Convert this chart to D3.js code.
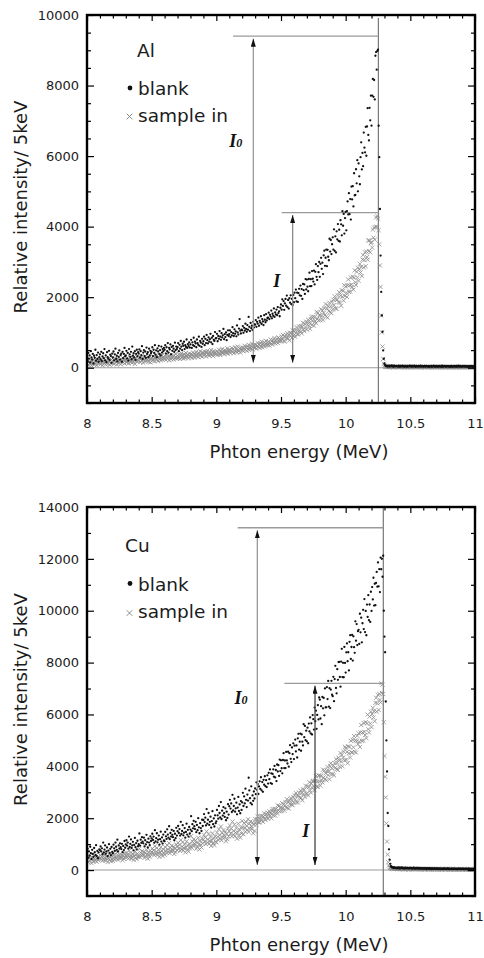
<!DOCTYPE html>
<html>
<head>
<meta charset="utf-8">
<title>Photon spectra, Al and Cu</title>
<script src="https://cdn.jsdelivr.net/npm/d3@7"></script>
<style>
  body { margin: 0; background: #fff; }
  svg text { font-family: "DejaVu Sans", sans-serif; fill: #1b1b1b; }
  .tick line { stroke: #000; stroke-width: 1.2; }
</style>
</head>
<body>
<svg id="chart" width="484" height="958"></svg>
<script>
// spectra are binned in 5 keV steps starting at 8 MeV
var binStart = 8.0;
var binWidth = 0.005;

var xTickValues = [8, 8.5, 9, 9.5, 10, 10.5, 11];
var alTickValues = [0, 2000, 4000, 6000, 8000, 10000];
var cuTickValues = [0, 2000, 4000, 6000, 8000, 10000, 12000, 14000];
var seriesNames = ["blank", "sample in"];

var alBlank = [
  310, 180, 420, 260, 350, 150, 470, 290, 230, 390, 120, 340, 280, 510, 200, 360, 250, 430, 170, 300,
  380, 240, 450, 190, 320, 410, 270, 530, 210, 350, 160, 440, 300, 260, 480, 220, 370, 330, 140, 400,
  290, 460, 210, 380, 540, 250, 340, 180, 420, 310, 490, 230, 360, 400, 170, 450, 270, 390, 560, 320,
  350, 480, 260, 420, 200, 530, 380, 310, 450, 240, 600, 340, 410, 290, 470, 220, 390, 510, 330, 440,
  400, 520, 290, 470, 360, 610, 250, 430, 500, 330, 460, 280, 570, 390, 440, 300, 540, 350, 480, 410,
  450, 580, 330, 510, 420, 640, 370, 490, 300, 550, 460, 620, 390, 500, 350, 600, 430, 530, 470, 560,
  510, 640, 400, 580, 470, 700, 430, 560, 520, 660, 380, 590, 480, 620, 540, 450, 710, 500, 600, 530,
  580, 700, 470, 650, 540, 760, 600, 500, 680, 620, 740, 530, 640, 590, 800, 560, 670, 610, 720, 570,
  660, 790, 560, 720, 640, 850, 610, 740, 690, 580, 800, 700, 650, 880, 620, 760, 710, 590, 820, 680,
  750, 880, 640, 820, 700, 930, 780, 690, 860, 740, 810, 960, 720, 850, 670, 900, 790, 760, 1010, 830,
  840, 960, 750, 900, 820, 1040, 880, 790, 980, 860, 920, 1100, 810, 950, 870, 1000, 780, 930, 1060, 900,
  950, 1060, 870, 1010, 920, 1150, 980, 900, 1090, 960, 1030, 890, 1200, 1000, 940, 1110, 1380, 1050, 970, 1080,
  1060, 1180, 990, 1130, 1050, 1250, 1100, 1020, 1210, 1080, 1440, 1160, 1040, 1270, 1120, 1190, 1070, 1300, 1140, 1230,
  1220, 1350, 1160, 1300, 1250, 1420, 1190, 1330, 1280, 1460, 1240, 1380, 1310, 1210, 1490, 1360, 1290, 1520, 1340, 1410,
  1420, 1560, 1380, 1500, 1450, 1620, 1400, 1530, 1470, 1680, 1440, 1570, 1510, 1650, 1490, 1720, 1550, 1600, 1460, 1700,
  1792, 1647, 1940, 1752, 1890, 1642, 1824, 1951, 1757, 2046, 1717, 1920, 1676, 1970, 1845, 2052, 1803, 1951, 1776, 2064,
  1856, 2127, 1972, 2216, 1880, 2127, 1866, 2116, 2237, 2053, 2328, 2038, 2230, 1951, 2376, 2199, 2362, 2091, 2512, 2219,
  2498, 2297, 2168, 2516, 2695, 2311, 2511, 2315, 2740, 2522, 2442, 2755, 2361, 2720, 2936, 2576, 2490, 2883, 2709, 2999,
  2576, 2946, 3117, 2805, 2977, 2655, 3187, 3319, 2889, 3118, 3350, 2880, 3343, 3146, 3047, 3656, 3293, 3621, 3223, 3500,
  3698, 3350, 3925, 3313, 3726, 3270, 3867, 3640, 4072, 3597, 3912, 3579, 4182, 4065, 3753, 4439, 4025, 4361, 3803, 4244,
  4420, 3896, 4440, 4714, 4346, 4950, 4352, 4782, 4200, 5135, 4772, 5146, 4572, 5513, 4886, 4903, 5627, 5228, 5884, 5002,
  5793, 5427, 5201, 5969, 6390, 5623, 6089, 5714, 6667, 6239, 6107, 6830, 6009, 6839, 7359, 6599, 6445, 7367, 7015, 7713,
  6862, 7715, 8187, 7681, 8157, 7607, 8845, 8950, 8450, 8980, 9020, 6860, 5970, 4500, 3180, 2150, 1480, 1020, 490, 255,
  120, 70, 55, 40, 62, 35, 48, 58, 30, 52, 44, 66, 38, 50, 28, 60, 45, 36, 54, 42,
  48, 30, 56, 40, 25, 52, 44, 34, 60, 38, 46, 28, 55, 42, 33, 50, 26, 47, 39, 58,
  36, 49, 27, 54, 41, 32, 58, 45, 24, 50, 37, 44, 29, 53, 40, 35, 57, 31, 46, 38,
  43, 26, 51, 39, 30, 55, 42, 34, 48, 22, 45, 37, 52, 28, 41, 33, 56, 40, 25, 47,
  31, 49, 38, 27, 53, 44, 29, 40, 35, 58, 24, 46, 32, 51, 39, 26, 43, 36, 50, 30,
  45, 33, 28, 52, 39, 24, 47, 36, 55, 30, 42, 27, 49, 38, 34, 57, 29, 44, 35, 41,
  26, 50, 37, 43, 31, 54, 28, 46, 39, 23, 48, 35, 41, 30, 53, 36, 27, 45, 33, 40,
  38
];

var alSample = [
  120, 210, 80, 170, 240, 100, 150, 60, 190, 130, 230, 90, 160, 110, 200, 70, 180, 140, 250, 120,
  190, 100, 220, 140, 70, 180, 260, 120, 160, 90, 210, 150, 240, 110, 170, 80, 200, 130, 230, 160,
  140, 230, 110, 200, 270, 160, 90, 190, 250, 130, 220, 170, 100, 240, 180, 290, 150, 210, 120, 200,
  230, 150, 280, 180, 120, 250, 210, 300, 160, 220, 140, 270, 190, 240, 110, 260, 200, 310, 170, 230,
  200, 280, 160, 250, 310, 190, 240, 140, 270, 220, 330, 180, 260, 210, 300, 170, 290, 230, 150, 260,
  280, 200, 320, 240, 180, 300, 260, 350, 220, 290, 190, 310, 250, 340, 210, 270, 360, 230, 300, 260,
  250, 330, 220, 300, 380, 260, 310, 210, 350, 280, 240, 370, 290, 320, 230, 340, 270, 390, 300, 260,
  340, 270, 380, 300, 250, 360, 410, 290, 330, 260, 390, 320, 280, 420, 350, 300, 370, 270, 400, 330,
  310, 390, 280, 360, 430, 330, 290, 400, 350, 450, 320, 380, 300, 420, 360, 470, 340, 390, 310, 440,
  410, 350, 460, 380, 320, 430, 480, 370, 400, 340, 450, 390, 500, 360, 420, 330, 470, 400, 440, 380,
  390, 460, 370, 440, 510, 400, 360, 480, 430, 530, 410, 450, 380, 500, 440, 470, 420, 550, 400, 490,
  440, 510, 420, 490, 560, 450, 530, 410, 480, 580, 460, 520, 440, 600, 500, 470, 540, 430, 570, 510,
  490, 570, 470, 550, 620, 510, 580, 480, 600, 530, 650, 500, 560, 620, 540, 680, 520, 590, 640, 560,
  570, 650, 540, 620, 700, 590, 660, 560, 690, 610, 740, 580, 670, 630, 720, 600, 680, 760, 640, 710,
  650, 740, 630, 710, 800, 680, 760, 660, 790, 720, 840, 690, 770, 730, 820, 700, 860, 750, 800, 780,
  752, 889, 808, 931, 757, 882, 746, 873, 933, 837, 977, 826, 923, 777, 994, 902, 984, 842, 1057, 904,
  1046, 943, 876, 1056, 1149, 949, 1053, 950, 1172, 1057, 1015, 1179, 972, 1161, 1275, 1083, 1037, 1245, 1152, 1307,
  1080, 1274, 1360, 1188, 1275, 1099, 1377, 1443, 1209, 1326, 1444, 1191, 1431, 1322, 1265, 1582, 1386, 1554, 1340, 1481,
  1494, 1348, 1658, 1465, 1616, 1357, 1555, 1695, 1492, 1807, 1456, 1680, 1418, 1744, 1610, 1843, 1572, 1739, 1548, 1874,
  1656, 1929, 1774, 2022, 1682, 1933, 1668, 1924, 2048, 1861, 2143, 1846, 2044, 1757, 2194, 2013, 2182, 1902, 2338, 2034,
  2305, 2123, 2006, 2332, 2502, 2148, 2337, 2158, 2557, 2356, 2285, 2580, 2215, 2554, 2760, 2424, 2346, 2719, 2558, 2835,
  2465, 2787, 2946, 2700, 2859, 2602, 3068, 3196, 2843, 3054, 3269, 2878, 3293, 3136, 3063, 3610, 3307, 3609, 3272, 3531,
  3563, 3406, 3919, 3688, 3971, 3632, 3991, 4262, 3998, 4300, 4230, 3900, 3500, 2900, 2290, 1480, 1000, 600, 250, 110,
  60, 35, 28, 20, 32, 18, 26, 30, 14, 24, 22, 34, 17, 27, 12, 31, 21, 16, 29, 23,
  25, 13, 30, 19, 11, 28, 22, 16, 33, 18, 24, 12, 29, 20, 15, 27, 10, 23, 17, 31,
  16, 26, 12, 29, 21, 14, 32, 23, 9, 27, 18, 22, 13, 28, 19, 15, 30, 11, 24, 20,
  22, 10, 27, 18, 13, 30, 21, 15, 25, 8, 23, 17, 28, 12, 20, 14, 31, 19, 9, 24,
  14, 26, 19, 11, 29, 22, 12, 20, 16, 32, 9, 24, 15, 27, 18, 10, 21, 17, 26, 13,
  23, 15, 11, 28, 19, 8, 25, 16, 30, 13, 21, 10, 26, 18, 14, 31, 12, 22, 16, 20,
  10, 27, 17, 22, 13, 29, 11, 24, 19, 7, 25, 15, 20, 12, 28, 16, 9, 23, 14, 19,
  18
];

var cuBlank = [
  600, 820, 480, 720, 560, 900, 650, 430, 780, 620, 510, 850, 690, 580, 960, 540, 740, 460, 680, 800,
  770, 910, 720, 840, 610, 1060, 680, 790, 950, 630, 720, 870, 540, 750, 1000, 660, 820, 580, 890, 700,
  650, 980, 840, 740, 1060, 900, 780, 1170, 720, 950, 830, 1030, 880, 810, 1010, 690, 930, 770, 1120, 860,
  990, 1150, 940, 1060, 830, 1290, 890, 1010, 1180, 850, 950, 1090, 760, 970, 1240, 880, 1040, 800, 1130, 920,
  1000, 1410, 940, 1170, 1050, 1270, 1100, 1030, 1250, 910, 1150, 990, 1360, 1080, 870, 1210, 1060, 960, 1300, 1120,
  1220, 1400, 1160, 1290, 1050, 1540, 1110, 1230, 1420, 1070, 1170, 1330, 980, 1190, 1480, 1100, 1260, 1020, 1370, 1140,
  1110, 1470, 1300, 1200, 1570, 1370, 1250, 1690, 1190, 1430, 1290, 1550, 1360, 1270, 1510, 1150, 1400, 1230, 1630, 1330,
  1500, 1700, 1430, 1580, 1330, 1860, 1390, 1510, 1730, 1340, 1440, 1620, 1250, 1470, 1790, 1370, 1550, 1290, 1660, 1410,
  1560, 2080, 1500, 1770, 1610, 1900, 1690, 1580, 1860, 1460, 1740, 1540, 2000, 1650, 1420, 1810, 1620, 1510, 1940, 1700,
  1930, 2160, 1850, 2020, 1720, 2350, 1790, 1940, 2200, 1740, 1860, 2060, 1640, 1890, 2270, 1770, 1990, 1680, 2110, 1810,
  1880, 2320, 2110, 1980, 2470, 2200, 2030, 2620, 1970, 2290, 2100, 2430, 2190, 2050, 2380, 1920, 2250, 2010, 2540, 2140,
  2460, 2710, 2370, 2570, 2240, 2900, 2300, 2470, 2750, 2250, 2380, 2600, 2150, 2410, 2820, 2280, 2530, 2190, 2660, 2320,
  2610, 2980, 2470, 2840, 2570, 3140, 2710, 2430, 2910, 2680, 3560, 3070, 2770, 2590, 3230, 2530, 2880, 2670, 3030, 2760,
  3145, 2926, 3382, 3096, 3315, 2935, 3222, 3423, 3127, 3579, 3073, 3392, 3018, 3480, 3289, 3617, 3233, 3468, 3199, 3654,
  3334, 3750, 3505, 3879, 3354, 3731, 3325, 3706, 3886, 3601, 4017, 3571, 3859, 3432, 4071, 3801, 4043, 3632, 4260, 3817,
  4231, 3927, 3731, 4244, 4506, 3932, 4224, 3933, 4554, 4229, 4110, 4563, 3986, 4506, 4816, 4289, 4163, 4728, 4474, 4889,
  4278, 4797, 5030, 4573, 4806, 4340, 5079, 5252, 4641, 4949, 5262, 4601, 5231, 4949, 4805, 5627, 5124, 5559, 5010, 5376,
  4966, 5490, 4890, 5648, 5345, 5885, 5269, 5658, 5227, 5977, 5820, 5419, 6266, 5739, 6147, 5446, 5982, 6357, 5809, 6654,
  6570, 5844, 6320, 5624, 6676, 6236, 6638, 5966, 7003, 6277, 6275, 7057, 6594, 7293, 6306, 7012, 6247, 6961, 7297, 6760,
  6706, 7450, 6513, 7366, 7877, 7020, 6817, 7747, 7336, 8020, 8026, 7445, 7070, 8039, 8531, 7442, 7990, 7435, 8605, 7989,
  7614, 8395, 8741, 8052, 8400, 7699, 8803, 9058, 8143, 8601, 9064, 8079, 9013, 8593, 8378, 9593, 8847, 9487, 8676, 9213,
  9264, 8720, 9884, 9169, 9732, 8780, 9517, 10034, 9293, 10450, 9176, 9994, 9054, 10236, 9761, 10600, 9637, 10241, 9569, 10732,
  9991, 10914, 10437, 11271, 10197, 11041, 10215, 11071, 11498, 10927, 11862, 10942, 11604, 10721, 12050, 11600, 12000, 11311, 12120, 10000,
  9000, 8400, 6500, 5000, 3800, 2200, 1700, 800, 400, 240, 150, 120, 95, 110, 80, 100, 90, 75, 85, 70,
  95, 70, 105, 80, 60, 90, 75, 100, 65, 85, 72, 55, 92, 68, 80, 62, 88, 74, 58, 83,
  70, 85, 60, 78, 52, 90, 66, 74, 48, 82, 63, 71, 55, 86, 61, 68, 50, 77, 58, 65,
  62, 48, 75, 55, 66, 42, 70, 57, 63, 45, 72, 52, 60, 40, 68, 54, 47, 64, 50, 58,
  46, 61, 52, 38, 65, 49, 56, 41, 59, 47, 35, 62, 50, 44, 57, 39, 53, 45, 60, 42,
  55, 40, 48, 36, 58, 44, 51, 33, 46, 54, 38, 49, 42, 30, 56, 43, 37, 50, 41, 47,
  35, 52, 44, 31, 48, 39, 55, 36, 42, 28, 50, 40, 46, 33, 45, 38, 29, 47, 37, 43,
  40
];

var cuSample = [
  380, 510, 300, 460, 350, 560, 420, 270, 490, 400, 330, 540, 440, 360, 590, 320, 470, 390, 520, 430,
  470, 560, 420, 510, 360, 640, 400, 480, 580, 370, 440, 530, 310, 450, 610, 390, 500, 340, 550, 430,
  350, 570, 480, 410, 620, 520, 440, 690, 400, 550, 460, 600, 510, 470, 590, 380, 540, 430, 650, 490,
  560, 660, 500, 600, 440, 750, 480, 570, 680, 450, 520, 620, 390, 540, 710, 470, 590, 420, 640, 510,
  540, 820, 490, 670, 560, 730, 620, 570, 710, 470, 650, 530, 780, 600, 440, 690, 580, 500, 750, 630,
  700, 830, 640, 760, 570, 920, 620, 710, 850, 580, 660, 780, 510, 680, 880, 610, 740, 540, 800, 650,
  590, 880, 750, 660, 960, 800, 700, 1040, 650, 860, 730, 940, 790, 740, 900, 620, 840, 690, 990, 770,
  900, 1050, 830, 970, 740, 1160, 800, 910, 1080, 760, 850, 990, 680, 870, 1110, 790, 950, 710, 1010, 840,
  920, 1310, 860, 1100, 950, 1190, 1020, 950, 1140, 820, 1070, 900, 1250, 990, 790, 1120, 970, 870, 1220, 1030,
  1170, 1360, 1100, 1260, 1000, 1490, 1060, 1180, 1390, 1010, 1120, 1280, 930, 1140, 1420, 1040, 1230, 960, 1300, 1100,
  1070, 1450, 1280, 1160, 1570, 1350, 1220, 1680, 1150, 1430, 1260, 1540, 1340, 1260, 1470, 1110, 1400, 1190, 1610, 1300,
  1500, 1720, 1420, 1600, 1300, 1870, 1370, 1510, 1750, 1310, 1440, 1620, 1210, 1460, 1790, 1340, 1560, 1250, 1640, 1410,
  1890, 1640, 1380, 1810, 1620, 1480, 1850, 1700, 1550, 1960, 1470, 1790, 1600, 1880, 1690, 1590, 1830, 1420, 1750, 1510,
  1960, 1838, 1760, 1964, 2068, 1839, 1955, 1839, 2085, 1956, 1909, 2088, 1860, 2064, 2186, 1979, 1929, 2151, 2051, 2213,
  1974, 2177, 2267, 2090, 2180, 1999, 2286, 2353, 2115, 2235, 2356, 2101, 2343, 2235, 2179, 2496, 2302, 2470, 2259, 2399,
  2413, 2272, 2576, 2391, 2538, 2291, 2484, 2620, 2427, 2731, 2398, 2613, 2368, 2678, 2554, 2775, 2523, 2683, 2507, 2813,
  2603, 2881, 2720, 2969, 2622, 2874, 2606, 2860, 2981, 2793, 3070, 2776, 2968, 2688, 3111, 2934, 3096, 2826, 3242, 2951,
  2950, 3228, 2877, 3195, 3385, 3065, 2989, 3334, 3181, 3434, 3436, 3221, 3082, 3440, 3621, 3219, 3421, 3216, 3646, 3419,
  3647, 3253, 3631, 3464, 3380, 3873, 3573, 3835, 3509, 3729, 3464, 3819, 3976, 3663, 3820, 3502, 4003, 4120, 3703, 3911,
  3699, 4029, 3651, 4128, 3938, 4277, 3889, 4134, 3863, 4333, 4235, 3984, 4513, 4184, 4439, 4002, 4336, 4569, 4229, 4753,
  4701, 4254, 4549, 4121, 4773, 4503, 4752, 4340, 4981, 4536, 4536, 5019, 4735, 5168, 4563, 4999, 4531, 4971, 5178, 4852,
  5270, 4949, 4745, 5304, 5593, 4982, 5303, 4995, 5671, 5328, 5206, 5701, 5085, 5652, 5994, 5432, 5302, 5919, 5651, 6106,
  5510, 6014, 6259, 5880, 6128, 5734, 6448, 6643, 6111, 6432, 6758, 6174, 6798, 6567, 6464, 7200, 6833, 7150, 6790, 5700,
  4400, 3600, 2800, 1800, 1100, 600, 300, 180, 120, 90, 75, 60, 55, 70, 45, 65, 50, 40, 58, 48,
  52, 38, 60, 44, 30, 55, 41, 48, 34, 57, 40, 28, 50, 36, 46, 32, 53, 39, 27, 45,
  37, 49, 29, 54, 42, 31, 47, 35, 58, 26, 43, 38, 51, 33, 44, 25, 48, 36, 30, 41,
  33, 46, 24, 40, 35, 50, 28, 43, 37, 22, 45, 31, 39, 27, 48, 34, 23, 42, 36, 29,
  41, 26, 38, 32, 21, 44, 30, 36, 25, 40, 33, 47, 28, 35, 20, 39, 31, 43, 24, 34,
  27, 39, 22, 36, 30, 45, 25, 33, 19, 38, 28, 42, 23, 31, 37, 20, 34, 26, 41, 29,
  32, 18, 35, 27, 40, 23, 30, 21, 37, 26, 33, 17, 29, 36, 24, 31, 19, 34, 25, 28,
  27
];

// guide marks in data units: cutoff energy, I0 and I levels,
// where each level line starts, energy of each arrow, label anchors
var alCutoff = 10.253;
var alLevels = [9400, 4400];
var alLevelFrom = [9.13, 9.505];
var alArrowAt = [9.286, 9.59];
var alLabelAt = [[9.10, 6250], [9.44, 2300]];

var cuCutoff = 10.291;
var cuLevels = [13200, 7200];
var cuLevelFrom = [9.165, 9.526];
var cuArrowAt = [9.317, 9.763];
var cuLabelAt = [[9.14, 6400], [9.665, 1270]];

var svg = d3.select("#chart");
var left = 87, right = 475;

svg.append("defs").append("marker")
  .attr("id", "head")
  .attr("viewBox", "0 0 10 10")
  .attr("refX", 10).attr("refY", 5)
  .attr("markerUnits", "userSpaceOnUse")
  .attr("markerWidth", 8).attr("markerHeight", 5)
  .attr("preserveAspectRatio", "none")
  .attr("orient", "auto-start-reverse")
  .append("path")
  .attr("d", "M0,0L10,5L0,10z")
  .attr("fill", "#111");

var panels = [
  {name: "Al", blank: alBlank, sample: alSample, yMax: 10000, yTicks: alTickValues, yMinor: 500,
   top: 15, bottom: 403, cutoff: alCutoff, levels: alLevels, levelFrom: alLevelFrom,
   arrowAt: alArrowAt, labelAt: alLabelAt, arrowColors: ["#9a9a9a", "#8a8a8a"], cutoffGap: 3,
   legendX: 137, legendY: [57, 95, 121.5], markerX: 130},
  {name: "Cu", blank: cuBlank, sample: cuSample, yMax: 14000, yTicks: cuTickValues, yMinor: 1000,
   top: 507, bottom: 896, cutoff: cuCutoff, levels: cuLevels, levelFrom: cuLevelFrom,
   arrowAt: cuArrowAt, labelAt: cuLabelAt, arrowColors: ["#9a9a9a", "#444"], cutoffGap: 1,
   legendX: 125, legendY: [552, 590.5, 618], markerX: 130}
];

function energy(i) { return binStart + i * binWidth; }

function cross(cx, cy, h) {
  return "M" + (cx - h) + "," + (cy - h) + "L" + (cx + h) + "," + (cy + h) +
         "M" + (cx - h) + "," + (cy + h) + "L" + (cx + h) + "," + (cy - h);
}

function styleAxis(g) {
  g.select(".domain").remove();
  g.attr("font-family", null).attr("font-size", 13);
}

function drawPanel(p) {
  var x = d3.scaleLinear().domain([8, 11]).range([left, right]);
  var y = d3.scaleLinear().domain([-1000, p.yMax]).range([p.bottom, p.top]);
  var g = svg.append("g").attr("class", "panel-" + p.name);

  g.append("clipPath").attr("id", "clip-" + p.name)
    .append("rect")
    .attr("x", left).attr("y", p.top)
    .attr("width", right - left).attr("height", p.bottom - p.top);

  // zero line and cutoff line
  g.append("line")
    .attr("x1", left).attr("x2", right)
    .attr("y1", y(0)).attr("y2", y(0))
    .attr("stroke", "#9a9a9a").attr("stroke-width", 1.1);
  g.append("line")
    .attr("x1", x(p.cutoff)).attr("x2", x(p.cutoff))
    .attr("y1", p.top + p.cutoffGap).attr("y2", p.bottom)
    .attr("stroke", "#777").attr("stroke-width", 1.2);

  // I0 / I level lines
  g.selectAll(".level").data(p.levels).join("line")
    .attr("class", "level")
    .attr("x1", function(d, i) { return x(p.levelFrom[i]); })
    .attr("x2", x(p.cutoff))
    .attr("y1", function(d) { return y(d); })
    .attr("y2", function(d) { return y(d); })
    .attr("stroke", "#9a9a9a").attr("stroke-width", 1.3);

  // spectra
  var plot = g.append("g").attr("clip-path", "url(#clip-" + p.name + ")");
  plot.selectAll(".xmark").data(p.sample).join("path")
    .attr("class", "xmark")
    .attr("d", function(v, i) { return cross(x(energy(i)), y(v), 2.1); })
    .attr("stroke", "#8c8c8c").attr("stroke-width", 0.8).attr("fill", "none");
  plot.selectAll(".dot").data(p.blank).join("circle")
    .attr("class", "dot")
    .attr("cx", function(v, i) { return x(energy(i)); })
    .attr("cy", function(v) { return y(v); })
    .attr("r", 1.15)
    .attr("fill", "#111");

  // double arrows
  g.selectAll(".arrow").data(p.levels).join("line")
    .attr("class", "arrow")
    .attr("x1", function(d, i) { return x(p.arrowAt[i]); })
    .attr("x2", function(d, i) { return x(p.arrowAt[i]); })
    .attr("y1", function(d) { return y(d) + 2.5; })
    .attr("y2", y(0) - 5)
    .attr("stroke", function(d, i) { return p.arrowColors[i]; })
    .attr("stroke-width", 1.3)
    .attr("marker-start", "url(#head)")
    .attr("marker-end", "url(#head)");

  // I0 and I labels
  var lab = g.selectAll(".ilabel").data(p.labelAt).join("text")
    .attr("class", "ilabel")
    .attr("x", function(d) { return x(d[0]); })
    .attr("y", function(d) { return y(d[1]); })
    .style("font-family", "'Liberation Serif', 'DejaVu Serif', serif")
    .style("font-weight", "bold").style("font-style", "italic")
    .style("font-size", "18px").style("fill", "#111")
    .text("I");
  lab.filter(function(d, i) { return i === 0; })
    .append("tspan").style("font-size", "12px").text("0");

  // frame
  g.append("rect")
    .attr("x", left).attr("y", p.top)
    .attr("width", right - left).attr("height", p.bottom - p.top)
    .attr("fill", "none").attr("stroke", "#000").attr("stroke-width", 2.4);

  // axes: inward ticks on all four sides
  var xMinor = d3.range(80, 111).map(function(d) { return d / 10; })
    .filter(function(d) { return xTickValues.indexOf(d) < 0; });
  var yMinor = d3.range(-1000, p.yMax + 1, p.yMinor)
    .filter(function(d) { return p.yTicks.indexOf(d) < 0; });

  g.append("g").attr("transform", "translate(0," + p.bottom + ")")
    .call(d3.axisBottom(x).tickValues(xTickValues).tickSize(-6).tickPadding(15.5)
      .tickFormat(function(d) { return String(d); }))
    .call(styleAxis);
  g.append("g").attr("transform", "translate(0," + p.bottom + ")")
    .call(d3.axisBottom(x).tickValues(xMinor).tickSize(-3.5).tickFormat(""))
    .call(styleAxis);
  g.append("g").attr("transform", "translate(0," + p.top + ")")
    .call(d3.axisTop(x).tickValues(xTickValues).tickSize(-6).tickFormat(""))
    .call(styleAxis);
  g.append("g").attr("transform", "translate(0," + p.top + ")")
    .call(d3.axisTop(x).tickValues(xMinor).tickSize(-3.5).tickFormat(""))
    .call(styleAxis);

  g.append("g").attr("transform", "translate(" + left + ",0)")
    .call(d3.axisLeft(y).tickValues(p.yTicks).tickSize(-7).tickPadding(8)
      .tickFormat(d3.format("d")))
    .call(styleAxis);
  g.append("g").attr("transform", "translate(" + left + ",0)")
    .call(d3.axisLeft(y).tickValues(yMinor).tickSize(-4).tickFormat(""))
    .call(styleAxis);
  g.append("g").attr("transform", "translate(" + right + ",0)")
    .call(d3.axisRight(y).tickValues(p.yTicks).tickSize(-7).tickFormat(""))
    .call(styleAxis);
  g.append("g").attr("transform", "translate(" + right + ",0)")
    .call(d3.axisRight(y).tickValues(yMinor).tickSize(-4).tickFormat(""))
    .call(styleAxis);

  // axis titles
  g.append("text")
    .attr("x", 299).attr("y", p.bottom + 55)
    .attr("text-anchor", "middle")
    .style("font-size", "18px")
    .text("Phton energy (MeV)");
  g.append("text")
    .attr("transform", "translate(27," + ((p.top + p.bottom) / 2 - 2) + ") rotate(-90)")
    .attr("text-anchor", "middle")
    .style("font-size", "18px")
    .text("Relative intensity/ 5keV");

  // legend
  g.append("text")
    .attr("x", p.legendX).attr("y", p.legendY[0])
    .style("font-size", "18.5px")
    .text(p.name);
  g.append("circle")
    .attr("cx", p.markerX).attr("cy", p.legendY[1] - 7)
    .attr("r", 2.4).attr("fill", "#111");
  g.append("path")
    .attr("d", cross(p.markerX - 0.5, p.legendY[2] - 5, 2.8))
    .attr("stroke", "#8c8c8c").attr("stroke-width", 1).attr("fill", "none");
  g.selectAll(".legend").data(seriesNames).join("text")
    .attr("class", "legend")
    .attr("x", p.markerX + 8)
    .attr("y", function(d, i) { return p.legendY[i + 1]; })
    .style("font-size", "18.5px")
    .text(function(d) { return d; });
}

panels.forEach(drawPanel);
</script>
</body>
</html>
